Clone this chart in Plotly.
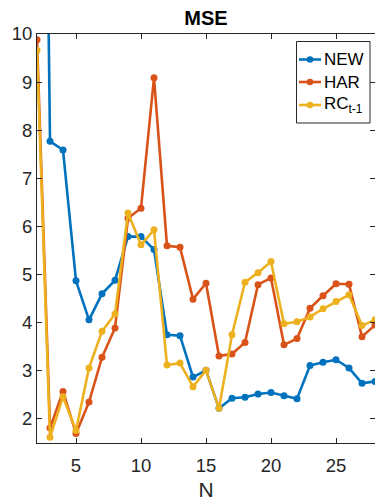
import plotly.graph_objects as go

# Forecast error (MSE) against window length N for three models
N = list(range(2, 29))
mse_new = [30.0, 7.77, 7.59, 4.87, 4.06, 4.60, 4.88, 5.79, 5.79, 5.52, 3.75, 3.73,
           2.87, 3.01, 2.22, 2.43, 2.45, 2.52, 2.55, 2.48, 2.42, 3.11, 3.18, 3.23,
           3.06, 2.74, 2.78]
mse_har = [9.88, 1.81, 2.57, 1.70, 2.35, 3.28, 3.89, 6.17, 6.38, 9.09, 5.60, 5.57,
           4.49, 4.82, 3.31, 3.35, 3.59, 4.79, 4.93, 3.54, 3.67, 4.30, 4.56, 4.81,
           4.80, 3.71, 3.95]
mse_rc = [9.66, 1.62, 2.46, 1.76, 3.06, 3.82, 4.18, 6.28, 5.62, 5.93, 3.12, 3.16,
          2.67, 3.01, 2.22, 3.75, 4.84, 5.04, 5.27, 3.98, 4.02, 4.12, 4.29, 4.44,
          4.58, 3.94, 4.06]

series_names = ["NEW", "HAR", "RC<sub>t-1</sub>"]
series_values = [mse_new, mse_har, mse_rc]
series_colors = ["#0072BD", "#D95319", "#EDB120"]

x_ticks = [5, 10, 15, 20, 25]
y_ticks = [2, 3, 4, 5, 6, 7, 8, 9, 10]

W, H = 375, 501
ML, MR, MT, MB = 37, 0, 34, 58
PW, PH = W - ML - MR, H - MT - MB
AXIS = "#262626"
FONT = "Liberation Sans, Arial, Helvetica, sans-serif"

fig = go.Figure()
for name, vals, col in zip(series_names, series_values, series_colors):
    fig.add_trace(go.Scatter(
        x=N, y=vals, mode="lines+markers", name=name,
        line=dict(color=col, width=2.6),
        marker=dict(color=col, size=7),
        showlegend=False, cliponaxis=True,
    ))


def px_x(p):
    return (p - ML) / PW


def px_y(p):
    return (H - MB - p) / PH


# Boxed legend in the upper right corner
shapes = [dict(type="rect", xref="paper", yref="paper",
               x0=px_x(296.5), x1=px_x(370), y0=px_y(123), y1=px_y(41.5),
               line=dict(color=AXIS, width=1), fillcolor="white", layer="above")]
annotations = []
row_y = [59.5, 82, 105]
for name, col, ry in zip(series_names, series_colors, row_y):
    yp = px_y(ry)
    shapes.append(dict(type="line", xref="paper", yref="paper",
                       x0=px_x(299), x1=px_x(321), y0=yp, y1=yp,
                       line=dict(color=col, width=2.6), layer="above"))
    shapes.append(dict(type="circle", xref="paper", yref="paper",
                       xsizemode="pixel", ysizemode="pixel",
                       xanchor=px_x(310), yanchor=yp,
                       x0=-3.3, x1=3.3, y0=-3.3, y1=3.3,
                       fillcolor=col, line=dict(color=col, width=0), layer="above"))
    annotations.append(dict(xref="paper", yref="paper", x=px_x(321.5), y=yp,
                            xanchor="left", yanchor="middle", showarrow=False,
                            text=name, font=dict(family=FONT, size=17, color="#000000")))

axis_common = dict(
    showline=True, linecolor=AXIS, linewidth=1, mirror="ticks",
    ticks="inside", ticklen=5, tickwidth=1, tickcolor=AXIS,
    showgrid=False, zeroline=False,
    tickfont=dict(family=FONT, size=18.5, color=AXIS),
)

fig.update_layout(
    width=W, height=H,
    margin=dict(l=ML, r=MR, t=MT, b=MB, pad=0),
    paper_bgcolor="white", plot_bgcolor="white",
    title=dict(text="<b>MSE</b>", x=(ML + PW / 2) / W, xanchor="center",
               y=1 - 18 / H, yanchor="middle",
               font=dict(family=FONT, size=20, color="#000000")),
    xaxis=dict(range=[2, 28], tickvals=x_ticks, ticktext=[str(t) for t in x_ticks],
               ticklabelstandoff=6,
               title=dict(text="N", standoff=8,
                          font=dict(family=FONT, size=21, color=AXIS)),
               **axis_common),
    yaxis=dict(range=[1.5, 10], tickvals=y_ticks, ticktext=[str(t) for t in y_ticks],
               **axis_common),
    shapes=shapes,
    annotations=annotations,
)

fig.write_html("out.html")
